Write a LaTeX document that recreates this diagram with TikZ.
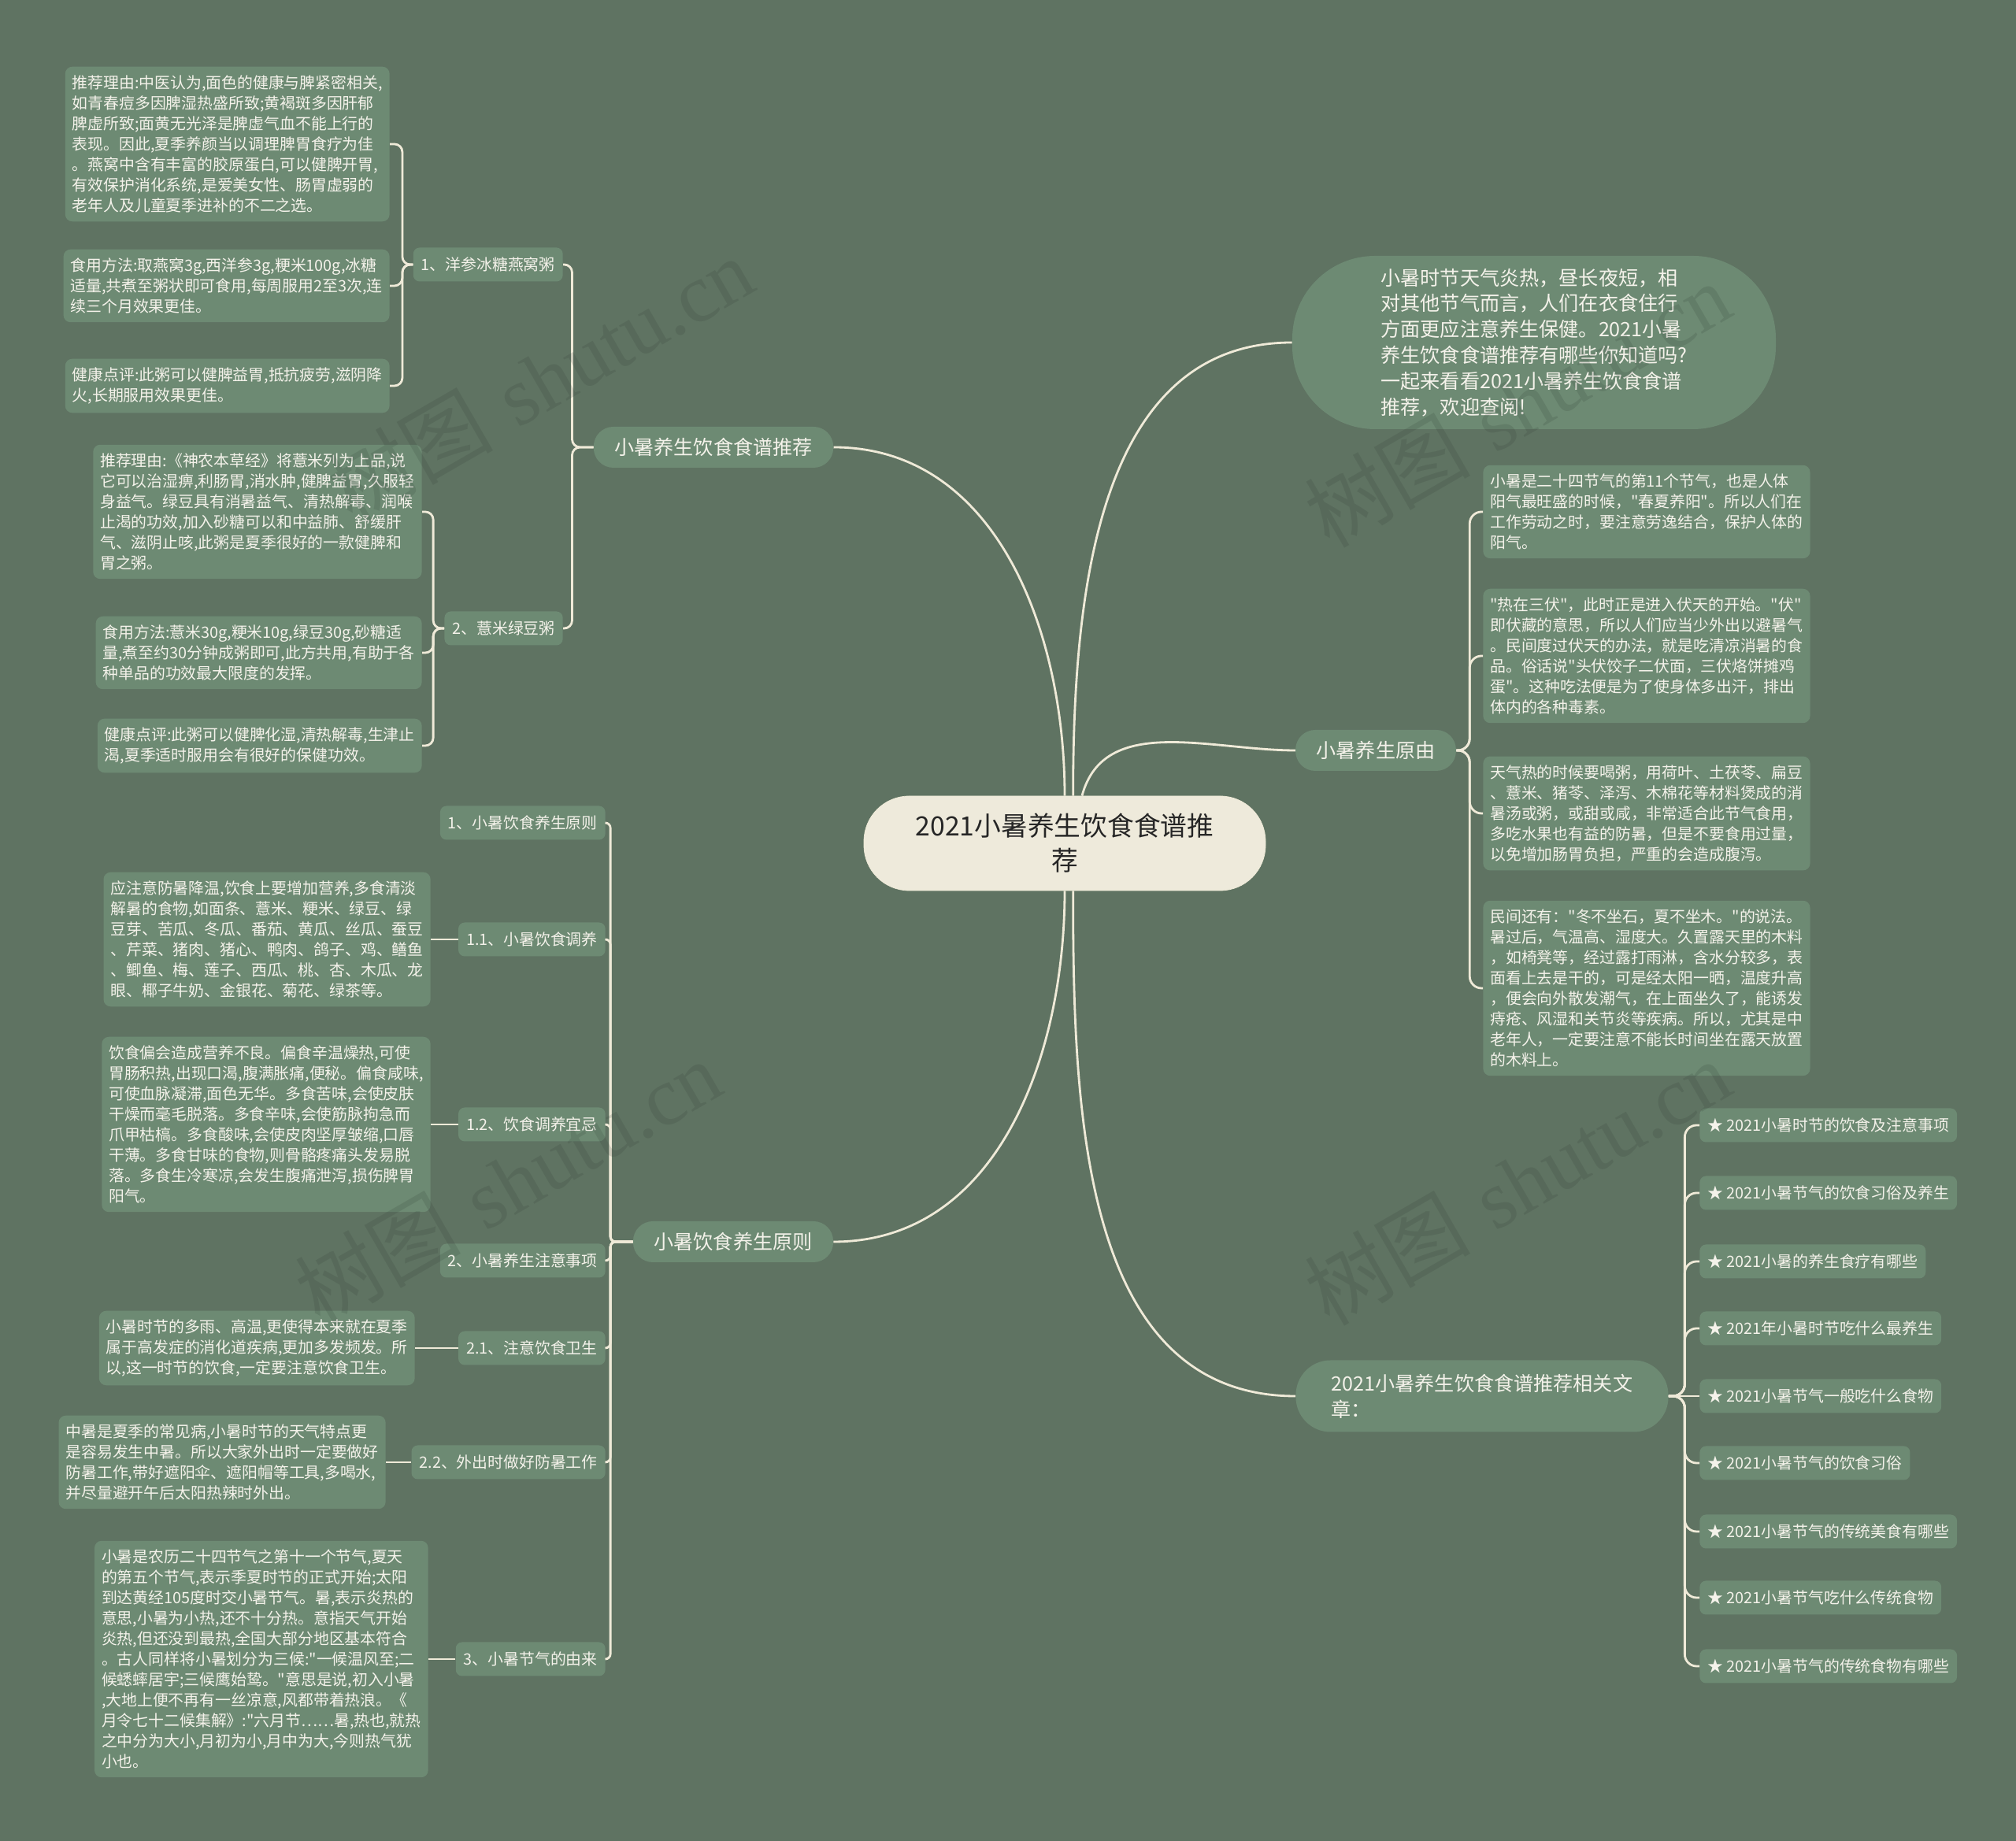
\documentclass[tikz,border=0pt]{standalone}
\usepackage{fontspec}
\newfontfamily\cjkfont{Noto Sans CJK SC}
\newfontfamily\markfont{Liberation Serif}
\usepackage{tikz}
\usetikzlibrary{arrows.meta}
\definecolor{BgGreen}   {HTML}{5F7362}
\definecolor{NodeGreen} {HTML}{6D8A73}
\definecolor{LineCream} {HTML}{EFEAD8}
\definecolor{RootCream} {HTML}{EEEADB}
\definecolor{RootInk}   {HTML}{262626}
\definecolor{TextWhite} {HTML}{F4F2EA}
\definecolor{MarkInk}   {HTML}{2E3A31}
\tikzset{
  root/.style={rectangle,rounded corners=1.15cm,fill=RootCream,draw=LineCream,
               minimum width=10.2cm,minimum height=2.4cm,align=center,
               font=\cjkfont\fontsize{19.2}{25}\selectfont\color{RootInk}},
  pill/.style={rectangle,rounded corners=0.5cm,fill=NodeGreen,inner xsep=0.53cm,
               minimum height=1.04cm,
               font=\cjkfont\fontsize{14.3}{18.7}\selectfont\color{TextWhite}},
  subbox/.style={rectangle,rounded corners=0.16cm,fill=NodeGreen,inner xsep=0.2cm,
                 minimum height=0.86cm,
                 font=\cjkfont\fontsize{11.3}{14.8}\selectfont\color{TextWhite}},
  txt/.style={rectangle,rounded corners=0.18cm,fill=NodeGreen,inner xsep=0.18cm,
              inner ysep=0.22cm,align=left,
              font=\cjkfont\fontsize{11.3}{14.8}\selectfont\color{TextWhite}},
  link/.style={draw=LineCream,line width=1.6pt},
  wmark/.style={rotate=30,text=MarkInk,text opacity=0.16,
                font=\fontsize{60}{60}\selectfont},
}
\begin{document}
\begin{tikzpicture}

  \useasboundingbox (0,0) rectangle (51.2,46.76);
  \fill[BgGreen] (0,0) rectangle (51.2,46.76);

  % centre and main branches
  \node[root] (ROOT) at (27.04,25.34){2021小暑养生饮食食谱推\\荐};
  \node[pill,rounded corners=2.1cm,minimum width=12.28cm,minimum height=4.4cm,align=left]
    (INTRO) at (38.96,38.06){小暑时节天气炎热，昼长夜短，相\\对其他节气而言，人们在衣食住行\\方面更应注意养生保健。2021小暑\\养生饮食食谱推荐有哪些你知道吗?\\一起来看看2021小暑养生饮食食谱\\推荐，欢迎查阅!};
  \node[pill] (REC)  at (18.12,35.40){小暑养生饮食食谱推荐};
  \node[pill] (PRIN) at (18.62,15.22){小暑饮食养生原则};
  \node[pill] (WHY)  at (34.94,27.70){小暑养生原由};
  \node[pill,rounded corners=0.88cm,minimum width=9.46cm,minimum height=1.82cm,align=left]
    (REL) at (37.64,11.30){2021小暑养生饮食食谱推荐相关文\\章：};

  \draw[link] (ROOT.north) to[out=90,in=0] (REC.east);
  \draw[link] (ROOT.80) to[out=90,in=180] (INTRO.west);
  \draw[link] (ROOT.70) to[out=75,in=180] (WHY.west);
  \draw[link] (ROOT.south) to[out=-90,in=0] (PRIN.east);
  \draw[link] (ROOT.-80) to[out=-90,in=180] (REL.west);

  % recipes
  \node[subbox,anchor=east] (S1) at (14.30,40.04){1、洋参冰糖燕窝粥};
  \node[subbox,anchor=east] (S2) at (14.30,30.80){2、薏米绿豆粥};
  \draw[link,rounded corners=0.2cm] (REC.west) -- ++(-0.54,0) |- (S1.east);
  \draw[link,rounded corners=0.2cm] (REC.west) -- ++(-0.54,0) |- (S2.east);

  \node[txt,anchor=east] (T1A) at (9.90,43.10){推荐理由:中医认为,面色的健康与脾紧密相关,\\如青春痘多因脾湿热盛所致;黄褐斑多因肝郁\\脾虚所致;面黄无光泽是脾虚气血不能上行的\\表现。因此,夏季养颜当以调理脾胃食疗为佳\\。燕窝中含有丰富的胶原蛋白,可以健脾开胃,\\有效保护消化系统,是爱美女性、肠胃虚弱的\\老年人及儿童夏季进补的不二之选。};
  \node[txt,anchor=east] (T1B) at (9.90,39.50){食用方法:取燕窝3g,西洋参3g,粳米100g,冰糖\\适量,共煮至粥状即可食用,每周服用2至3次,连\\续三个月效果更佳。};
  \node[txt,anchor=east] (T1C) at (9.90,36.96){健康点评:此粥可以健脾益胃,抵抗疲劳,滋阴降\\火,长期服用效果更佳。};
  \draw[link,rounded corners=0.2cm] (S1.west) -- ++(-0.27,0) |- (T1A.east);
  \draw[link,rounded corners=0.2cm] (S1.west) -- ++(-0.27,0) |- (T1B.east);
  \draw[link,rounded corners=0.2cm] (S1.west) -- ++(-0.27,0) |- (T1C.east);

  \node[txt,anchor=east] (T2A) at (10.72,33.76){推荐理由:《神农本草经》将薏米列为上品,说\\它可以治湿痹,利肠胃,消水肿,健脾益胃,久服轻\\身益气。绿豆具有消暑益气、清热解毒、润喉\\止渴的功效,加入砂糖可以和中益肺、舒缓肝\\气、滋阴止咳,此粥是夏季很好的一款健脾和\\胃之粥。};
  \node[txt,anchor=east] (T2B) at (10.72,30.18){食用方法:薏米30g,粳米10g,绿豆30g,砂糖适\\量,煮至约30分钟成粥即可,此方共用,有助于各\\种单品的功效最大限度的发挥。};
  \node[txt,anchor=east] (T2C) at (10.72,27.82){健康点评:此粥可以健脾化湿,清热解毒,生津止\\渴,夏季适时服用会有很好的保健功效。};
  \draw[link,rounded corners=0.2cm] (S2.west) -- ++(-0.28,0) |- (T2A.east);
  \draw[link,rounded corners=0.2cm] (S2.west) -- ++(-0.28,0) |- (T2B.east);
  \draw[link,rounded corners=0.2cm] (S2.west) -- ++(-0.28,0) |- (T2C.east);

  % principles
  \node[subbox,anchor=east] (P1)  at (15.38,25.86){1、小暑饮食养生原则};
  \node[subbox,anchor=east] (P11) at (15.38,22.90){1.1、小暑饮食调养};
  \node[subbox,anchor=east] (P12) at (15.38,18.20){1.2、饮食调养宜忌};
  \node[subbox,anchor=east] (P2)  at (15.38,14.74){2、小暑养生注意事项};
  \node[subbox,anchor=east] (P21) at (15.38,12.52){2.1、注意饮食卫生};
  \node[subbox,anchor=east] (P22) at (15.38,9.62){2.2、外出时做好防暑工作};
  \node[subbox,anchor=east] (P3)  at (15.38,4.62){3、小暑节气的由来};
  \foreach \p in {P1,P11,P12,P2,P21,P22,P3}
    \draw[link,rounded corners=0.13cm] (PRIN.west) -- ++(-0.57,0) |- (\p.east);

  \node[txt,anchor=east] (T11) at (10.94,22.90){应注意防暑降温,饮食上要增加营养,多食清淡\\解暑的食物,如面条、薏米、粳米、绿豆、绿\\豆芽、苦瓜、冬瓜、番茄、黄瓜、丝瓜、蚕豆\\、芹菜、猪肉、猪心、鸭肉、鸽子、鸡、鳝鱼\\、鲫鱼、梅、莲子、西瓜、桃、杏、木瓜、龙\\眼、椰子牛奶、金银花、菊花、绿茶等。};
  \node[txt,anchor=east] (T12) at (10.94,18.20){饮食偏会造成营养不良。偏食辛温燥热,可使\\胃肠积热,出现口渴,腹满胀痛,便秘。偏食咸味,\\可使血脉凝滞,面色无华。多食苦味,会使皮肤\\干燥而毫毛脱落。多食辛味,会使筋脉拘急而\\爪甲枯槁。多食酸味,会使皮肉坚厚皱缩,口唇\\干薄。多食甘味的食物,则骨骼疼痛头发易脱\\落。多食生冷寒凉,会发生腹痛泄泻,损伤脾胃\\阳气。};
  \node[txt,anchor=east] (T21) at (10.54,12.52){小暑时节的多雨、高温,更使得本来就在夏季\\属于高发症的消化道疾病,更加多发频发。所\\以,这一时节的饮食,一定要注意饮食卫生。};
  \node[txt,anchor=east] (T22) at (9.80,9.62){中暑是夏季的常见病,小暑时节的天气特点更\\是容易发生中暑。所以大家外出时一定要做好\\防暑工作,带好遮阳伞、遮阳帽等工具,多喝水,\\并尽量避开午后太阳热辣时外出。};
  \node[txt,anchor=east] (T3) at (10.88,4.62){小暑是农历二十四节气之第十一个节气,夏天\\的第五个节气,表示季夏时节的正式开始;太阳\\到达黄经105度时交小暑节气。暑,表示炎热的\\意思,小暑为小热,还不十分热。意指天气开始\\炎热,但还没到最热,全国大部分地区基本符合\\。古人同样将小暑划分为三候:"一候温风至;二\\候蟋蟀居宇;三候鹰始鸷。"意思是说,初入小暑\\,大地上便不再有一丝凉意,风都带着热浪。《\\月令七十二候集解》:"六月节……暑,热也,就热\\之中分为大小,月初为小,月中为大,今则热气犹\\小也。};
  \draw[link] (P11.west) -- (T11.east);
  \draw[link] (P12.west) -- (T12.east);
  \draw[link] (P21.west) -- (T21.east);
  \draw[link] (P22.west) -- (T22.east);
  \draw[link] (P3.west) -- (T3.east);

  % reasons
  \node[txt,anchor=west] (R1) at (37.66,33.76){小暑是二十四节气的第11个节气，也是人体\\阳气最旺盛的时候，"春夏养阳"。所以人们在\\工作劳动之时，要注意劳逸结合，保护人体的\\阳气。};
  \node[txt,anchor=west] (R2) at (37.66,30.10){"热在三伏"，此时正是进入伏天的开始。"伏"\\即伏藏的意思，所以人们应当少外出以避暑气\\。民间度过伏天的办法，就是吃清凉消暑的食\\品。俗话说"头伏饺子二伏面，三伏烙饼摊鸡\\蛋"。这种吃法便是为了使身体多出汗，排出\\体内的各种毒素。};
  \node[txt,anchor=west] (R3) at (37.66,26.10){天气热的时候要喝粥，用荷叶、土茯苓、扁豆\\、薏米、猪苓、泽泻、木棉花等材料煲成的消\\暑汤或粥，或甜或咸，非常适合此节气食用，\\多吃水果也有益的防暑，但是不要食用过量，\\以免增加肠胃负担，严重的会造成腹泻。};
  \node[txt,anchor=west] (R4) at (37.66,21.66){民间还有："冬不坐石，夏不坐木。"的说法。\\暑过后，气温高、湿度大。久置露天里的木料\\，如椅凳等，经过露打雨淋，含水分较多，表\\面看上去是干的，可是经太阳一晒，温度升高\\，便会向外散发潮气，在上面坐久了，能诱发\\痔疮、风湿和关节炎等疾病。所以，尤其是中\\老年人，一定要注意不能长时间坐在露天放置\\的木料上。};
  \foreach \r in {R1,R2,R3,R4}
    \draw[link,rounded corners=0.3cm] (WHY.east) -- ++(0.34,0) |- (\r.west);

  % related articles
  \node[subbox,anchor=west] (L1) at (43.16,18.18){★ 2021小暑时节的饮食及注意事项};
  \node[subbox,anchor=west] (L2) at (43.16,16.46){★ 2021小暑节气的饮食习俗及养生};
  \node[subbox,anchor=west] (L3) at (43.16,14.72){★ 2021小暑的养生食疗有哪些};
  \node[subbox,anchor=west] (L4) at (43.16,13.02){★ 2021年小暑时节吃什么最养生};
  \node[subbox,anchor=west] (L5) at (43.16,11.30){★ 2021小暑节气一般吃什么食物};
  \node[subbox,anchor=west] (L6) at (43.16,9.60){★ 2021小暑节气的饮食习俗};
  \node[subbox,anchor=west] (L7) at (43.16,7.86){★ 2021小暑节气的传统美食有哪些};
  \node[subbox,anchor=west] (L8) at (43.16,6.18){★ 2021小暑节气吃什么传统食物};
  \node[subbox,anchor=west] (L9) at (43.16,4.44){★ 2021小暑节气的传统食物有哪些};
  \foreach \l in {L1,L2,L3,L4,L6,L7,L8,L9}
    \draw[link,rounded corners=0.3cm] (REL.east) -- ++(0.41,0) |- (\l.west);
  \draw[link] (REL.east) -- (L5.west);

  % watermarks
  \node[wmark] (WM1) at (13.72,37.12){{\cjkfont 树图} {\markfont shutu.cn}};
  \node[wmark] (WM2) at (38.54,36.48){{\cjkfont 树图} {\markfont shutu.cn}};
  \node[wmark] (WM3) at (12.90,16.72){{\cjkfont 树图} {\markfont shutu.cn}};
  \node[wmark] (WM4) at (38.54,16.72){{\cjkfont 树图} {\markfont shutu.cn}};

\end{tikzpicture}
\end{document}
